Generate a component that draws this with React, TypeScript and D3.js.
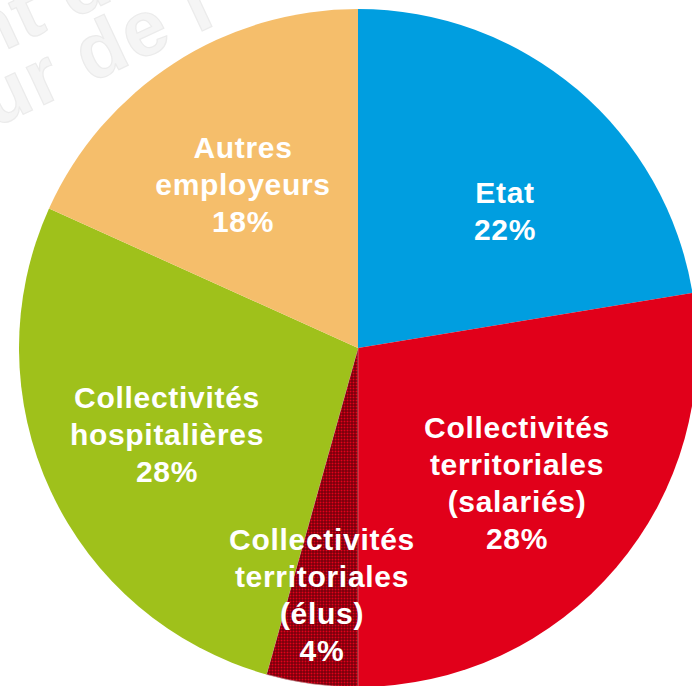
import React from "react";
import * as d3 from "d3";

const categories = ["Etat", "Collectivités territoriales (salariés)", "Collectivités territoriales (élus)", "Collectivités hospitalières", "Autres employeurs"];
const values = [22.4, 27.6, 4.35, 27.4, 18.25];
const percentLabels = ["22%", "28%", "4%", "28%", "18%"];
const labelLines = [
  ["Etat"],
  ["Collectivités", "territoriales", "(salariés)"],
  ["Collectivités", "territoriales", "(élus)"],
  ["Collectivités", "hospitalières"],
  ["Autres", "employeurs"],
];
const watermarkLines = ["nt de", "ur de l"];
const colors = ["#009EE0", "#E1001A", "url(#elusPattern)", "#9FC11B", "#F5BE6B"];
// label anchor: center x, first baseline y
const labelPos = [
  [505, 203],
  [517, 438],
  [322, 550],
  [167, 408],
  [243, 158],
];

const W = 692;
const H = 686;
const cx = 358;
const cy = 348;
const R = 339;
const LINE = 37;

export default function App() {
  const pie = d3.pie<number>().sort(null).value((d) => d).startAngle(0).endAngle(2 * Math.PI);
  const arcs = pie(values);
  const arc = d3.arc<d3.PieArcDatum<number>>().innerRadius(0).outerRadius(R);

  return (
    <div style={{ position: "fixed", left: 0, top: 0, width: W, height: H, background: "#fff" }}>
      <svg width={W} height={H} style={{ display: "block" }}>
        <defs>
          <pattern id="elusPattern" width={3} height={3} patternUnits="userSpaceOnUse">
            <rect width={3} height={3} fill="#5E0008" />
            <rect x={0.5} y={0.5} width={2} height={2} fill="#E2001A" />
          </pattern>
        </defs>
        <g fontFamily="Liberation Sans, Arial, sans-serif" fontWeight="bold" fontSize={78} fill="#f5f5f5" stroke="#ebebeb" strokeWidth={1.2} letterSpacing={2}>
          <text transform="translate(-20,62) rotate(-25)">{watermarkLines[0]}</text>
          <text transform="translate(-6,128) rotate(-25)">{watermarkLines[1]}</text>
        </g>
        <g transform={`translate(${cx},${cy})`}>
          {arcs.map((a, i) => (
            <path key={categories[i]} d={arc(a) || ""} fill={colors[i]} stroke={i === 2 ? "#c8a0a0" : "none"} strokeWidth={i === 2 ? 0.6 : 0} />
          ))}
        </g>
        <g fontFamily="Liberation Sans, Arial, sans-serif" fontWeight="bold" fontSize={30} fill="#ffffff" textAnchor="middle" letterSpacing={0.7}>
          {labelLines.map((lines, i) => {
            const [x, y] = labelPos[i];
            const all = [...lines, percentLabels[i]];
            return (
              <text key={categories[i]}>
                {all.map((t, j) => (
                  <tspan key={j} x={x} y={y + j * LINE}>
                    {t}
                  </tspan>
                ))}
              </text>
            );
          })}
        </g>
      </svg>
    </div>
  );
}
